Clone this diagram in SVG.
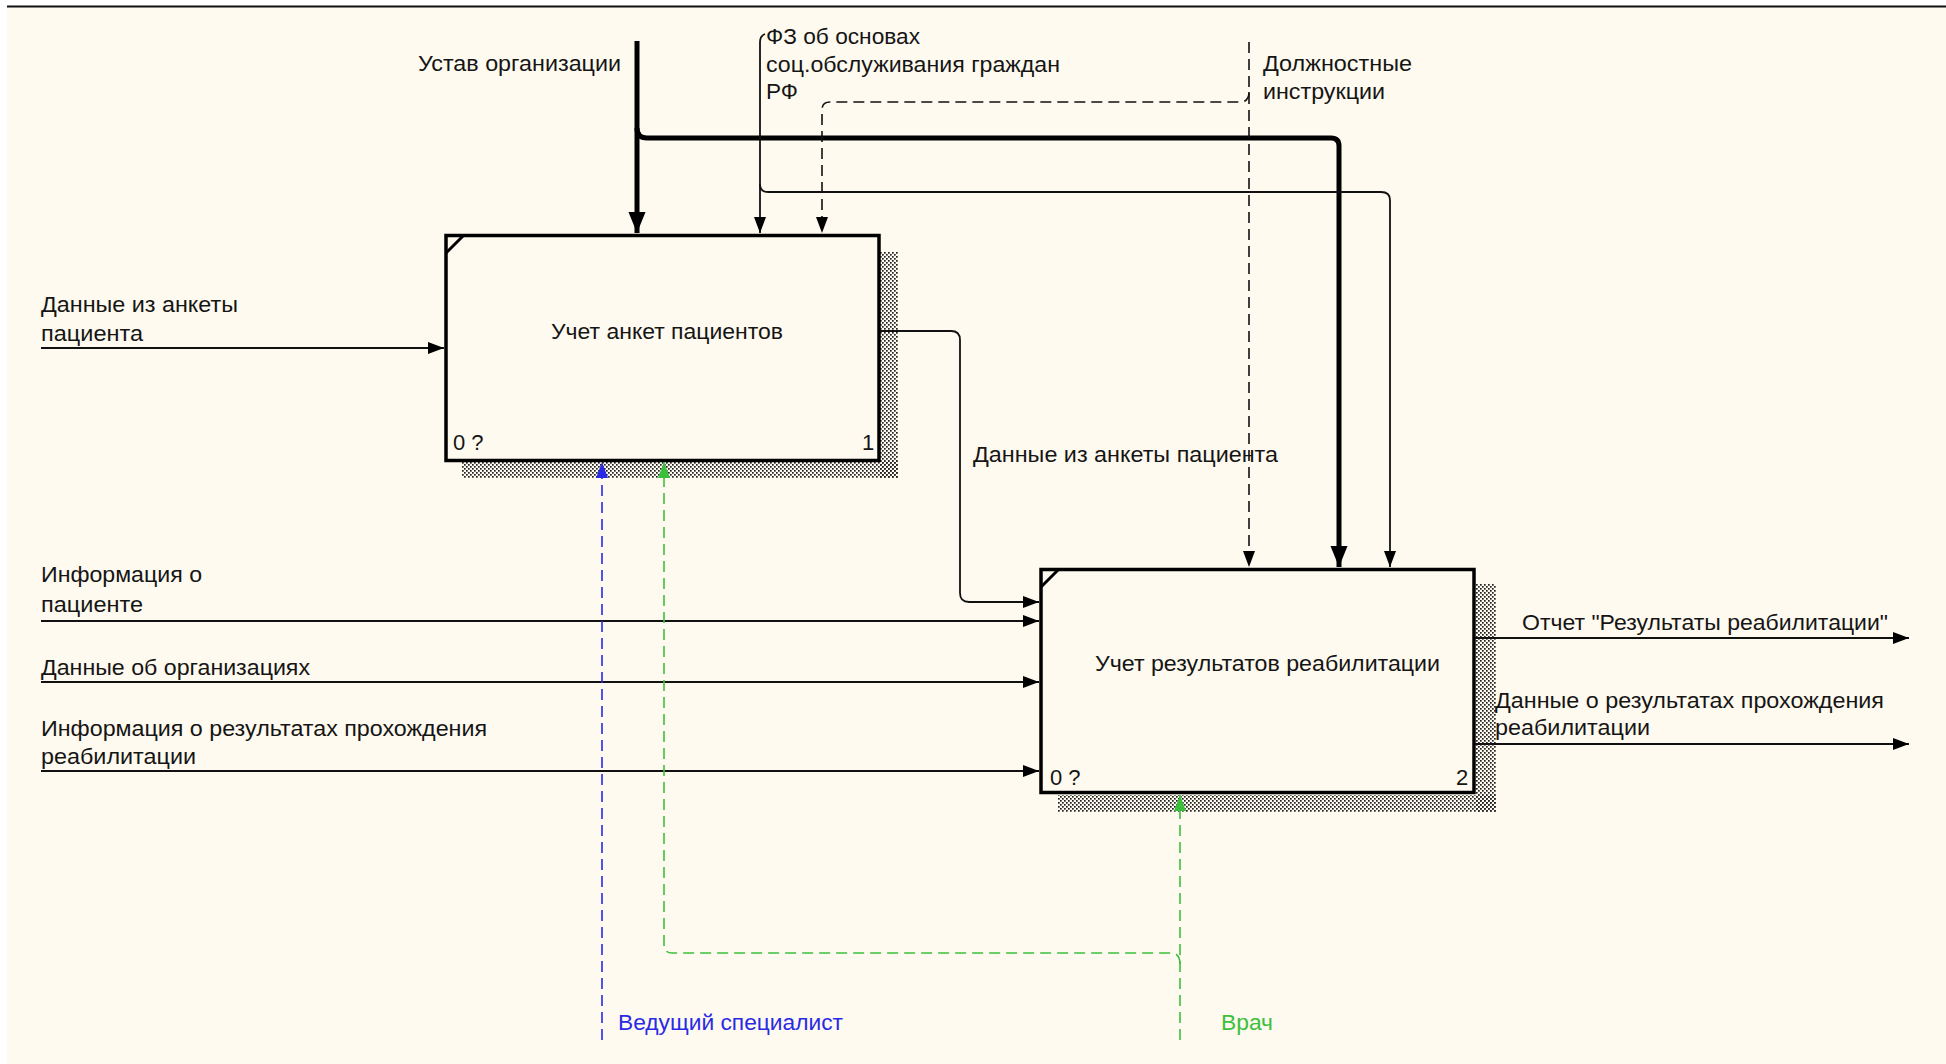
<svg xmlns="http://www.w3.org/2000/svg" width="1946" height="1064" viewBox="0 0 1946 1064">
  <defs>
    <style>
      .lbl { font-family: "Liberation Sans", Arial, sans-serif; font-size: 22px; fill: #151515; }
      .blue { fill: #2a2ae6; }
      .green { fill: #3cc03c; }
      .box { fill: #fffaef; stroke: #000; stroke-width: 3.5; }
      .corner { fill: none; stroke: #000; stroke-width: 3; }
      .thin { fill: none; stroke: #111; stroke-width: 1.8; }
      .thick { fill: none; stroke: #000; stroke-width: 5; }
      .dash { fill: none; stroke: #111; stroke-width: 1.6; stroke-dasharray: 11 6; }
      .dblue { fill: none; stroke: #2a2ae6; stroke-width: 1.6; stroke-dasharray: 11 6; }
      .dgreen { fill: none; stroke: #3cc03c; stroke-width: 1.6; stroke-dasharray: 11 6; }
    </style>
    <pattern id="hatch" width="4" height="4" patternUnits="userSpaceOnUse">
      <rect x="0" y="0" width="1.7" height="1.7" fill="#222"/>
      <rect x="2" y="2" width="1.7" height="1.7" fill="#222"/>
    </pattern>
    <marker id="arr" markerUnits="userSpaceOnUse" markerWidth="16" markerHeight="13" refX="16" refY="6.5" orient="auto">
      <path d="M0,0.5 L16,6.5 L0,12.5 z" fill="#000"/>
    </marker>
    <marker id="arrThick" markerUnits="userSpaceOnUse" markerWidth="21" markerHeight="18" refX="21" refY="9" orient="auto">
      <path d="M0,0.5 L21,9 L0,17.5 z" fill="#000"/>
    </marker>
    <marker id="arrBlue" markerUnits="userSpaceOnUse" markerWidth="16" markerHeight="13" refX="16" refY="6.5" orient="auto">
      <path d="M0,0.5 L16,6.5 L0,12.5 z" fill="#2a2ae6"/>
    </marker>
    <marker id="arrGreen" markerUnits="userSpaceOnUse" markerWidth="16" markerHeight="13" refX="16" refY="6.5" orient="auto">
      <path d="M0,0.5 L16,6.5 L0,12.5 z" fill="#3cc03c"/>
    </marker>
  </defs>

  <!-- page -->
  <rect x="0" y="0" width="1946" height="1064" fill="#ffffff"/>
  <rect x="7" y="7" width="1939" height="1057" fill="#fffaef"/>
  <line x1="7" y1="6.5" x2="1946" y2="6.5" stroke="#111" stroke-width="2"/>

  <!-- activity 1 -->
  <g id="node-a1">
    <rect x="880" y="252" width="18" height="226" fill="url(#hatch)"/>
    <rect x="462" y="461" width="436" height="17" fill="url(#hatch)"/>
    <rect class="box" x="446" y="235.5" width="433" height="225"/>
    <path class="corner" d="M446,253 L463,236"/>
    <text class="lbl" x="551" y="339" textLength="232" lengthAdjust="spacingAndGlyphs">Учет анкет пациентов</text>
    <text class="lbl" x="453" y="450">0 ?</text>
    <text class="lbl" x="862" y="450">1</text>
  </g>

  <!-- activity 2 -->
  <g id="node-a2">
    <rect x="1476" y="584" width="20" height="228" fill="url(#hatch)"/>
    <rect x="1058" y="795" width="438" height="17" fill="url(#hatch)"/>
    <rect class="box" x="1041" y="569.5" width="433" height="223"/>
    <path class="corner" d="M1041,587 L1058,570"/>
    <text class="lbl" x="1095" y="671" textLength="345" lengthAdjust="spacingAndGlyphs">Учет результатов реабилитации</text>
    <text class="lbl" x="1050" y="785">0 ?</text>
    <text class="lbl" x="1456" y="785">2</text>
  </g>

  <!-- arrows -->
  <g id="connectors">
    <!-- controls -->
    <path class="thick" d="M637,41 V233" marker-end="url(#arrThick)"/>
    <path class="thick" d="M637,128 Q637,138 647,138 H1331 Q1339,138 1339,146 V567" marker-end="url(#arrThick)"/>
    <path class="thin" d="M765,34 Q760,36 760,42 V233" marker-end="url(#arr)"/>
    <path class="thin" d="M760,184 Q760,192 768,192 H1381 Q1390,192 1390,200 V567" marker-end="url(#arr)"/>
    <path class="dash" d="M1249,42 V567" marker-end="url(#arr)"/>
    <path class="dash" d="M1249,92 Q1249,102 1240,102 H830 Q822,102 822,110 V233" marker-end="url(#arr)"/>

    <!-- inputs -->
    <path class="thin" d="M41,348 H444" marker-end="url(#arr)"/>
    <path class="thin" d="M880,331 H951 Q960,331 960,340 V593 Q960,602 969,602 H1039" marker-end="url(#arr)"/>
    <path class="thin" d="M41,621 H1039" marker-end="url(#arr)"/>
    <path class="thin" d="M41,682 H1039" marker-end="url(#arr)"/>
    <path class="thin" d="M41,771 H1039" marker-end="url(#arr)"/>

    <!-- outputs -->
    <path class="thin" d="M1475,638 H1909" marker-end="url(#arr)"/>
    <path class="thin" d="M1475,744 H1909" marker-end="url(#arr)"/>

    <!-- mechanisms -->
    <path class="dblue" d="M602,1040 V462" marker-end="url(#arrBlue)"/>
    <path class="dgreen" d="M1180,1040 V795" marker-end="url(#arrGreen)"/>
    <path class="dgreen" d="M1180,964 Q1180,953 1171,953 H672 Q664,953 664,944 V462" marker-end="url(#arrGreen)"/>
  </g>

  <!-- arrow labels -->
  <g id="labels">
    <text class="lbl" x="418" y="71" textLength="203" lengthAdjust="spacingAndGlyphs">Устав организации</text>
    <text class="lbl" x="766" y="44" textLength="154" lengthAdjust="spacingAndGlyphs">ФЗ об основах</text>
    <text class="lbl" x="766" y="72" textLength="294" lengthAdjust="spacingAndGlyphs">соц.обслуживания граждан</text>
    <text class="lbl" x="766" y="99" textLength="32" lengthAdjust="spacingAndGlyphs">РФ</text>
    <text class="lbl" x="1263" y="71" textLength="149" lengthAdjust="spacingAndGlyphs">Должностные</text>
    <text class="lbl" x="1263" y="99" textLength="122" lengthAdjust="spacingAndGlyphs">инструкции</text>
    <text class="lbl" x="41" y="312" textLength="197" lengthAdjust="spacingAndGlyphs">Данные из анкеты</text>
    <text class="lbl" x="41" y="341" textLength="102" lengthAdjust="spacingAndGlyphs">пациента</text>
    <text class="lbl" x="973" y="462" textLength="305" lengthAdjust="spacingAndGlyphs">Данные из анкеты пациента</text>
    <text class="lbl" x="41" y="582" textLength="161" lengthAdjust="spacingAndGlyphs">Информация о</text>
    <text class="lbl" x="41" y="612" textLength="102" lengthAdjust="spacingAndGlyphs">пациенте</text>
    <text class="lbl" x="41" y="675" textLength="269" lengthAdjust="spacingAndGlyphs">Данные об организациях</text>
    <text class="lbl" x="41" y="736" textLength="446" lengthAdjust="spacingAndGlyphs">Информация о результатах прохождения</text>
    <text class="lbl" x="41" y="764" textLength="155" lengthAdjust="spacingAndGlyphs">реабилитации</text>
    <text class="lbl" x="1522" y="630" textLength="366" lengthAdjust="spacingAndGlyphs">Отчет "Результаты реабилитации"</text>
    <text class="lbl" x="1495" y="708" textLength="389" lengthAdjust="spacingAndGlyphs">Данные о результатах прохождения</text>
    <text class="lbl" x="1495" y="735" textLength="155" lengthAdjust="spacingAndGlyphs">реабилитации</text>
    <text class="lbl blue" x="618" y="1030" textLength="225" lengthAdjust="spacingAndGlyphs">Ведущий специалист</text>
    <text class="lbl green" x="1221" y="1030" textLength="52" lengthAdjust="spacingAndGlyphs">Врач</text>
  </g>
</svg>
